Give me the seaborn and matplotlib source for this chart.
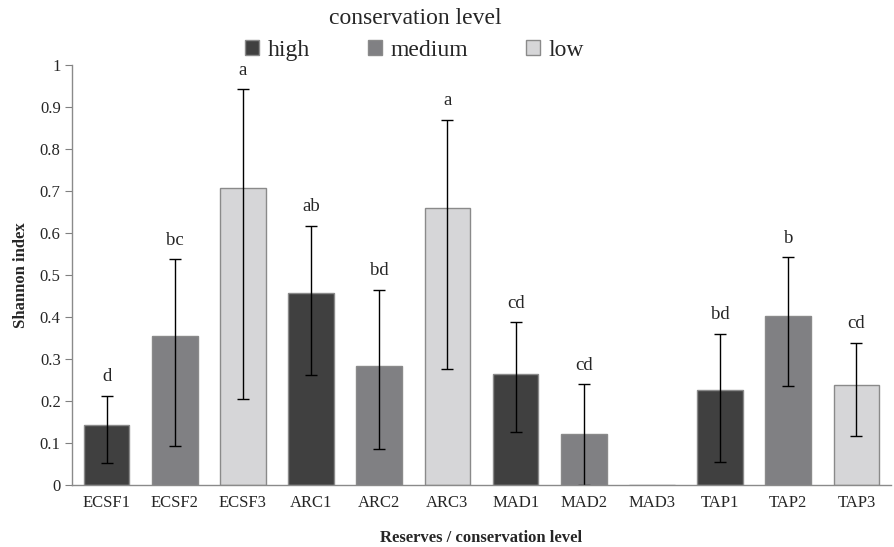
import numpy as np
import pandas as pd
import matplotlib
matplotlib.use("Agg")
import matplotlib.pyplot as plt
import seaborn as sns
from matplotlib.patches import Patch

# данные
reserves = ["ECSF1", "ECSF2", "ECSF3", "ARC1", "ARC2", "ARC3",
            "MAD1", "MAD2", "MAD3", "TAP1", "TAP2", "TAP3"]
levels = ["high", "medium", "low"] * 4
shannon = [0.143, 0.355, 0.707, 0.457, 0.283, 0.659,
           0.264, 0.122, 0.0, 0.226, 0.403, 0.239]
err_top = [0.213, 0.538, 0.942, 0.618, 0.465, 0.870,
           0.388, 0.240, np.nan, 0.360, 0.543, 0.339]
err_bottom = [0.052, 0.093, 0.205, 0.262, 0.085, 0.277,
              0.127, 0.0, np.nan, 0.055, 0.237, 0.117]
letters = ["d", "bc", "a", "ab", "bd", "a", "cd", "cd", "", "bd", "b", "cd"]

df = pd.DataFrame({"reserve": reserves, "level": levels, "shannon": shannon})
palette = {"high": "#404040", "medium": "#808083", "low": "#d6d6d8"}

sns.set_style("white")
plt.rcParams["font.family"] = ["Liberation Serif", "DejaVu Serif"]

fig = plt.figure(figsize=(8.95, 5.47), dpi=100)
ax = fig.add_axes([0.081, 0.113, 0.914, 0.768])

sns.barplot(data=df, x="reserve", y="shannon", hue="level", palette=palette,
            dodge=False, width=0.67, edgecolor="#8a8a8a", linewidth=1,
            legend=False, ax=ax)

# планки погрешностей
x = np.arange(len(reserves))
vals = np.array(shannon)
lo = vals - np.array(err_bottom)
hi = np.array(err_top) - vals
mask = ~np.isnan(hi)
ax.errorbar(x[mask], vals[mask], yerr=[lo[mask], hi[mask]], fmt="none",
            ecolor="black", elinewidth=1, capsize=4, capthick=1)

# буквы значимости
for xi, top, lab in zip(x, err_top, letters):
    if lab:
        ax.text(xi, top + 0.025, lab, ha="center", va="bottom", fontsize=13.5)

ax.set_ylim(0, 1)
ax.set_xlim(-0.5, len(reserves) - 0.5)
ax.set_yticks(np.arange(0, 1.01, 0.1))
ax.set_yticklabels(["0"] + [f"{v:.1f}" for v in np.arange(0.1, 0.95, 0.1)] + ["1"])
ax.set_xticks(np.arange(-0.5, len(reserves), 1), minor=True)
ax.tick_params(axis="x", which="major", length=0, labelsize=12, pad=7)
ax.tick_params(axis="x", which="minor", length=5, color="#808080", width=1)
ax.tick_params(axis="y", length=5, color="#808080", labelsize=12, left=True)
ax.set_xlabel("Reserves / conservation level", fontsize=12, fontweight="bold", labelpad=14)
ax.set_ylabel("Shannon index", fontsize=12, fontweight="bold", labelpad=8)

for side in ["top", "right"]:
    ax.spines[side].set_visible(False)
for side in ["left", "bottom"]:
    ax.spines[side].set_color("#8a8a8a")
    ax.spines[side].set_linewidth(1)

# легенда сверху
fig.text(0.464, 0.967, "conservation level", ha="center", va="center", fontsize=17)
handles = [Patch(facecolor=palette[k], edgecolor="#8a8a8a", label=k)
           for k in ["high", "medium", "low"]]
leg = fig.legend(handles=handles, ncol=3, loc="center",
                 bbox_to_anchor=(0.463, 0.908), frameon=False,
                 fontsize=17, handlelength=0.6, handleheight=0.6,
                 columnspacing=2.45, handletextpad=0.35, borderpad=0.1)

fig.savefig("out.png", dpi=100)
